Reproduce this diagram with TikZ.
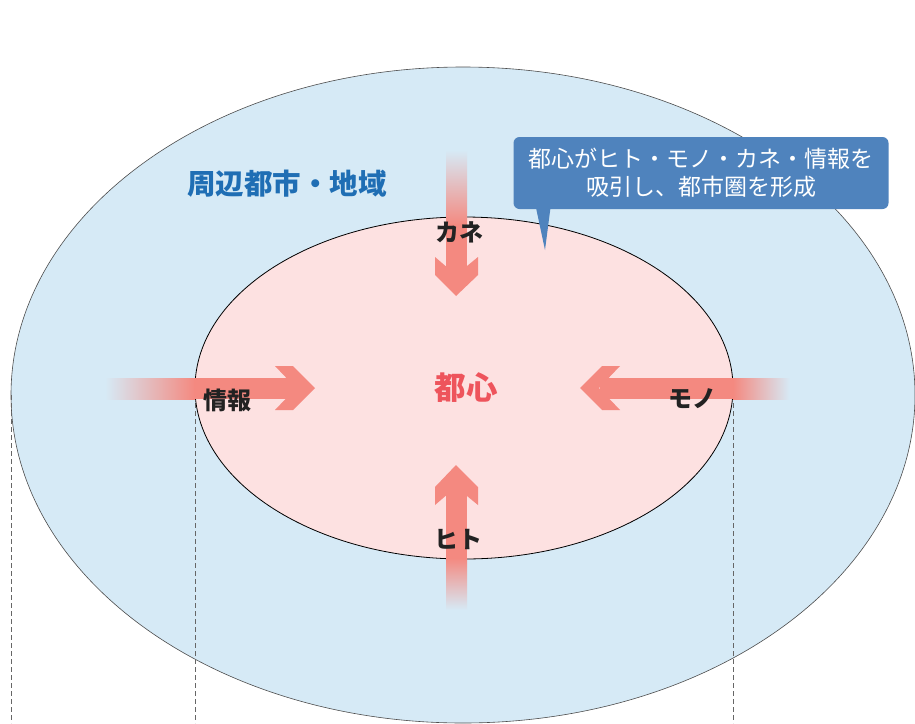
\documentclass[tikz,border=0pt]{standalone}
\usepackage{fontspec}
\newfontfamily\jp{Noto Sans CJK JP}
\usepackage{tikz}
\definecolor{outerblue}{RGB}{214,234,246}
\definecolor{innerpink}{RGB}{253,225,225}
\definecolor{arrowred}{RGB}{244,137,128}
\definecolor{titleblue}{RGB}{31,110,180}
\definecolor{noteblue}{RGB}{79,131,189}
\definecolor{darktext}{RGB}{34,34,34}
\definecolor{cityred}{RGB}{238,84,92}
\tikzstyle{flowlabel}=[font=\jp\bfseries\fontsize{24}{27}\selectfont, text=darktext, inner sep=0pt]
\tikzstyle{arrowbody}=[fill=arrowred, draw=none]
\tikzstyle{guide}=[draw=gray!80!black, dash pattern=on 5pt off 3pt, line width=0.7pt]
\tikzstyle{notebox}=[fill=noteblue, rounded corners=6pt, text=white, align=center,
  minimum width=375pt, minimum height=72pt, inner sep=0pt,
  font=\jp\fontsize{23}{28}\selectfont]

\begin{document}
\begin{tikzpicture}[x=1pt, y=-1pt]
  \useasboundingbox (0,0) rectangle (915,723);
  \clip (0,0) rectangle (915,723);
  \begin{scope}
    % area around the centre
    \draw[fill=outerblue, draw=gray!60!black, line width=0.6pt] (463,395) ellipse [x radius=452pt, y radius=328pt];
    \coordinate (g1) at (11,395);  \coordinate (g1b) at (11,723);
    \coordinate (g2) at (195,395); \coordinate (g2b) at (195,723);
    \coordinate (g3) at (733,395); \coordinate (g3b) at (733,723);
    \path [guide] (g1) edge (g1b);
    \path [guide] (g2) edge (g2b);
    \path [guide] (g3) edge (g3b);
    \draw[fill=innerpink, draw=black, line width=0.8pt] (464,388) ellipse [x radius=269pt, y radius=171pt];
  \end{scope}
  \begin{scope}
    % top arrow
    \shade[top color=outerblue, bottom color=arrowred] (446,150) rectangle (467,225);
    \fill[arrowbody] (446,224) rectangle (467,275);
    \fill[arrowbody] (435,257) -- (456,275) -- (478,257) -- (478,275) -- (456,296) -- (435,275) -- cycle;
    % left arrow
    \shade[left color=outerblue, right color=arrowred] (105,378) rectangle (195,399);
    \fill[arrowbody] (194,378) rectangle (296,399);
    \fill[arrowbody] (275,366) -- (293,366) -- (315,388) -- (293,410) -- (275,410) -- (296,388) -- cycle;
    % right arrow
    \shade[left color=arrowred, right color=outerblue] (733,378) rectangle (790,399);
    \fill[arrowbody] (600,378) rectangle (734,399);
    \fill[arrowbody] (620,366) -- (602,366) -- (580,388) -- (602,410) -- (620,410) -- (599,388) -- cycle;
    % bottom arrow
    \shade[top color=arrowred, bottom color=outerblue] (446,558) rectangle (467,610);
    \fill[arrowbody] (446,486) rectangle (467,559);
    \fill[arrowbody] (435,505) -- (456,487) -- (478,505) -- (478,487) -- (456,465) -- (435,487) -- cycle;
  \end{scope}
  \begin{scope}
    \node (region) at (287,184) [font=\jp\bfseries\fontsize{28.5}{31}\selectfont, text=titleblue] {周辺都市・地域};
    \node (city) at (466,388) [font=\jp\bfseries\fontsize{31.5}{35}\selectfont, text=cityred] {都心};
    \node (kane) at (459,232) [flowlabel] {カネ};
    \node (joho) at (227,400) [flowlabel] {情報};
    \node (mono) at (692,399) [flowlabel] {モノ};
    \node (hito) at (458,539) [flowlabel] {ヒト};
    \node (note) at (701,173) [notebox] {都心がヒト・モノ・カネ・情報を\\吸引し、都市圏を形成};
    \coordinate (notetip) at (545,250);
    \fill[noteblue] ([xshift=23pt]note.south west) -- (notetip) -- ([xshift=37pt]note.south west) -- cycle;
  \end{scope}
\end{tikzpicture}
\end{document}
